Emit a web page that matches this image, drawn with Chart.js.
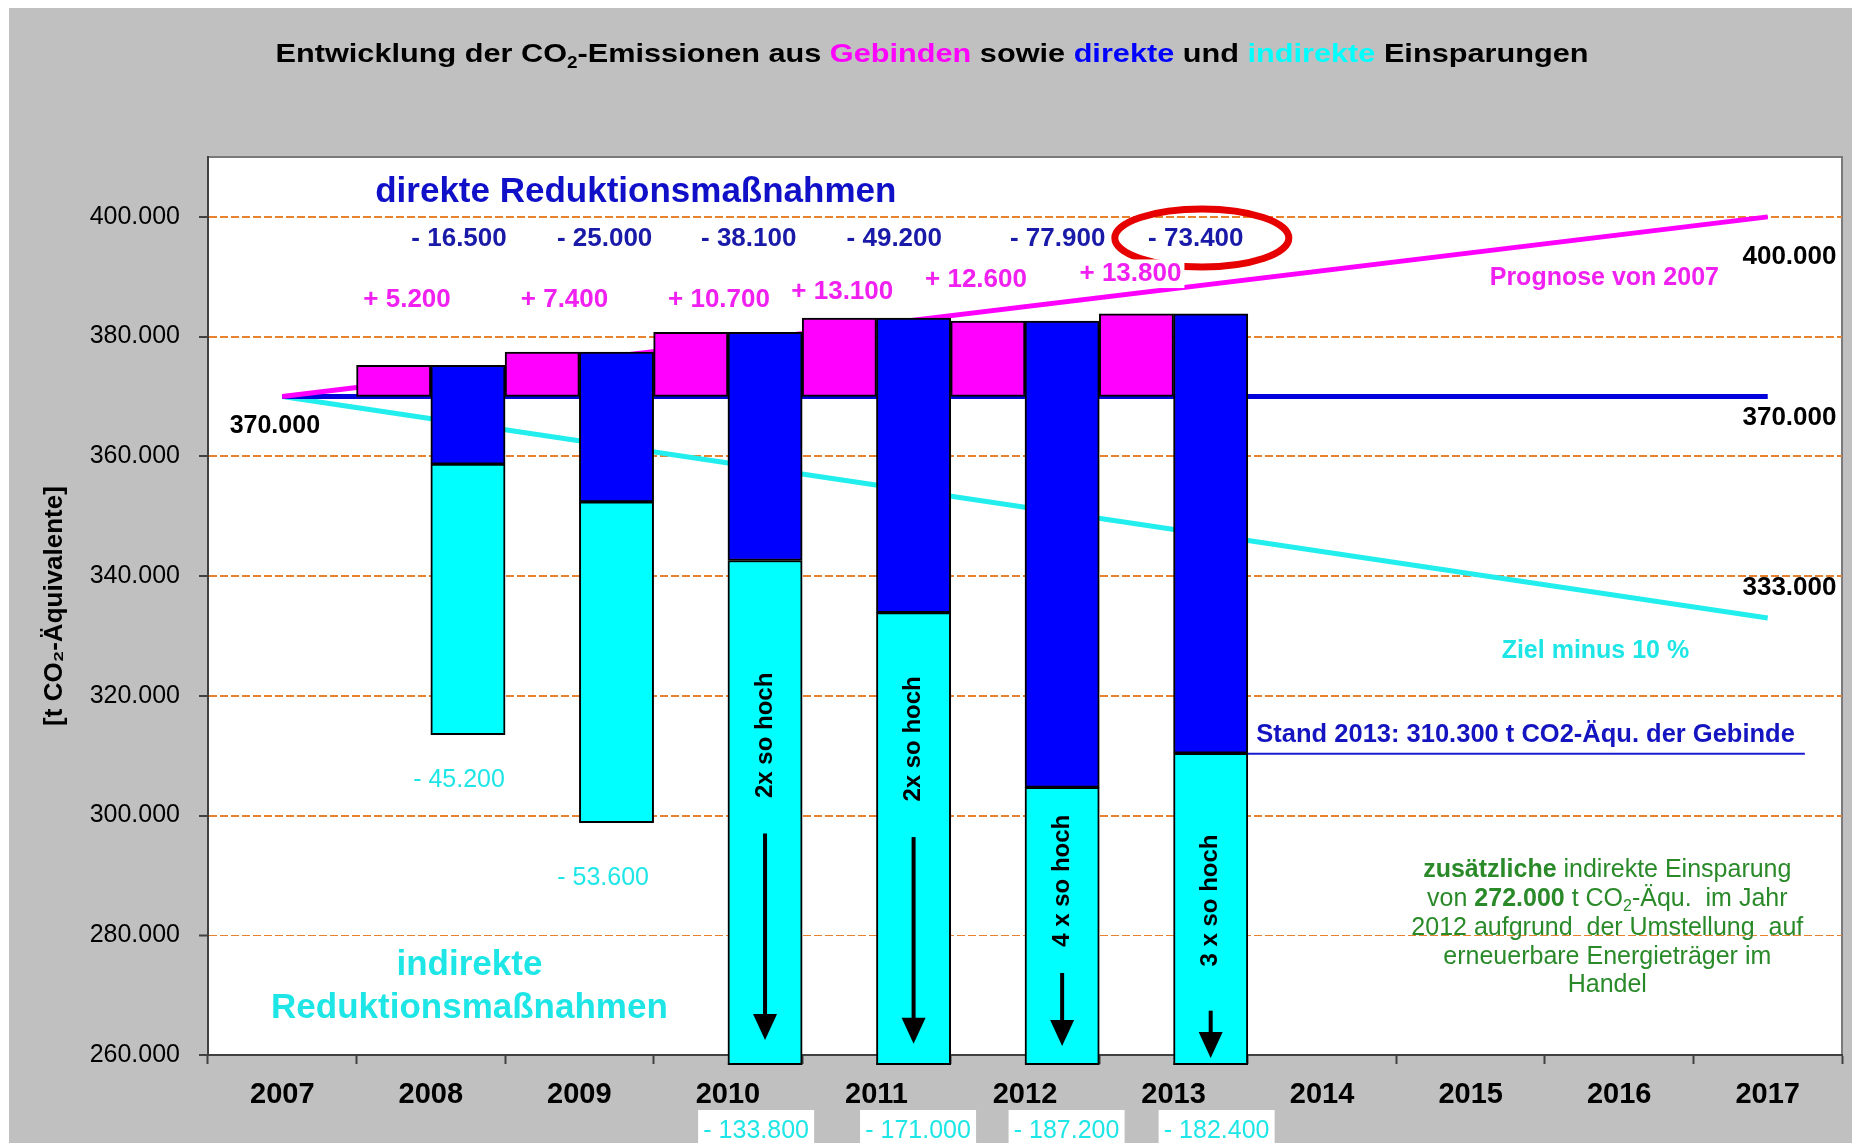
<!DOCTYPE html>
<html lang="de">
<head>
<meta charset="utf-8">
<title>Entwicklung der CO2-Emissionen aus Gebinden</title>
<script src="https://cdn.jsdelivr.net/npm/chart.js@4.4.1/dist/chart.umd.min.js"></script>
<style>
  html, body { margin: 0; padding: 0; background: #fff; }
  canvas { display: block; }
</style>
</head>
<body>
<canvas id="co2Chart" width="1852" height="1143"></canvas>
<script>
// --- data (t CO2-Äquivalente) ---
const years = ['2007', '2008', '2009', '2010', '2011', '2012', '2013', '2014', '2015', '2016', '2017']
const base2007 = 370000
const packagingIncrease = [null, 5200, 7400, 10700, 13100, 12600, 13800, null, null, null, null]
const directSavings = [null, 16500, 25000, 38100, 49200, 77900, 73400, null, null, null, null]
const indirectSavings = [null, 45200, 53600, 133800, 171000, 187200, 182400, null, null, null, null]
const forecastLine = [370000, null, null, null, null, null, null, null, null, null, 400000]
const baseLine = [370000, null, null, null, null, null, null, null, null, null, 370000]
const targetLine = [370000, null, null, null, null, null, null, null, null, null, 333000]
const status2013 = 310300
const extraIndirect2012 = 272000
const yTickValues = [260000, 280000, 300000, 320000, 340000, 360000, 380000, 400000]
const yMin = 260000
const yMax = 410000

// floating bars built from the arrays above
const packagingTop = packagingIncrease.map(v => v === null ? null : base2007 + v)
const packagingBars = packagingTop.map(t => t === null ? null : [base2007, t])
const directBars = packagingTop.map((t, i) => t === null ? null : [t - directSavings[i], t])
const indirectBars = packagingTop.map((t, i) => t === null ? null : [t - directSavings[i] - indirectSavings[i], t - directSavings[i]])

const FONT = "'Liberation Sans', Arial, Helvetica, sans-serif"
const MAGENTA = '#ff00ff'
const BLUE = '#0000ff'
const CYAN = '#00ffff'
const fmt = v => v.toLocaleString('de-DE')

// annotation layout: x in category index units, y in axis units
const notes = {
  directHeading: { i: 2.38, v: 404150 },
  directLabelX: [null, 1.19, 2.17, 3.14, 4.12, 5.22, 6.15],
  directLabelY: 396300,
  packagingLabelX: [null, 0.84, 1.90, 2.94, 3.77, 4.67, 5.71],
  packagingLabelY: [null, 386200, 386200, 386200, 387500, 389500, 390500],
  indirectLabelX: [null, 1.19, 2.16, 3.19, 4.28, 5.28, 6.29],
  indirectLabelY: [null, 305900, 289500],
  indirectHeading: { i: 1.26, v: [274900, 267800] },
  times: [
    null, null, null,
    { text: '2x so hoch', v: 313400, arrow: [297000, 262500] },
    { text: '2x so hoch', v: 312800, arrow: [296400, 261900] },
    { text: '4 x so hoch', v: 289100, arrow: [273700, 261500] },
    { text: '3 x so hoch', v: 285800, arrow: [267400, 259500] }
  ],
  endLabelX: 9.83,
  endLabelY: [393300, 366400, 338100],
  startLabel: { i: -0.05, v: 365000 },
  forecastText: { i: 8.9, v: 389700 },
  targetText: { i: 8.84, v: 327500 },
  statusText: { i: 8.37, v: 313500 },
  statusLineEnd: 10.25,
  extraText: { i: 8.92, v: 291200, step: 28.8 }
}

function label (ctx, str, x, y, size, color, opts = {}) {
  ctx.save()
  ctx.font = `${opts.bold ? 'bold ' : ''}${size}px ${FONT}`
  ctx.textAlign = opts.align || 'center'
  ctx.textBaseline = 'middle'
  if (opts.bg) {
    const w = ctx.measureText(str).width
    const left = ctx.textAlign === 'center' ? x - w / 2 : x
    ctx.fillStyle = opts.bg
    ctx.fillRect(left - 3, y - size * 0.55, w + 6, size * 1.1)
  }
  ctx.fillStyle = color
  ctx.fillText(str, x, y)
  ctx.restore()
}

// one centred line made of differently styled pieces (colour, bold, subscript)
function richLine (ctx, parts, cx, cy, size, stretch = 1) {
  const fontOf = p => `${p.bold ? 'bold ' : ''}${p.sub ? Math.round(size * 0.62) : size}px ${FONT}`
  let total = 0
  parts.forEach(p => { ctx.font = fontOf(p); total += ctx.measureText(p.t).width })
  let x = -total / 2
  const baseline = cy + size * 0.36
  ctx.save()
  ctx.translate(cx, 0)
  ctx.scale(stretch, 1)
  ctx.textAlign = 'left'
  ctx.textBaseline = 'alphabetic'
  parts.forEach(p => {
    ctx.font = fontOf(p)
    ctx.fillStyle = p.color
    ctx.fillText(p.t, x, baseline + (p.sub ? size * 0.2 : 0))
    x += ctx.measureText(p.t).width
  })
  ctx.restore()
}

const backdrop = {
  id: 'backdrop',
  beforeDraw (chart) {
    const { ctx, chartArea: a, width, height } = chart
    ctx.save()
    ctx.fillStyle = '#ffffff'
    ctx.fillRect(0, 0, width, height)
    ctx.fillStyle = '#c0c0c0'
    ctx.fillRect(9, 8, width - 9, height - 8)
    ctx.fillStyle = '#ffffff'
    ctx.fillRect(a.left, a.top, a.right - a.left, a.bottom - a.top)
    ctx.strokeStyle = '#7a7a7a'
    ctx.lineWidth = 2
    ctx.beginPath()
    ctx.moveTo(a.left, a.top)
    ctx.lineTo(a.right, a.top)
    ctx.lineTo(a.right, a.bottom)
    ctx.stroke()
    ctx.restore()
  }
}

const annotations = {
  id: 'annotations',
  afterDraw (chart) {
    const { ctx, chartArea: a, scales: { x, y } } = chart
    const px = i => x.getPixelForValue(i)
    const py = v => y.getPixelForValue(v)
    const directMeta = chart.getDatasetMeta(1)
    const indirectMeta = chart.getDatasetMeta(2)

    // title
    richLine(ctx, [
      { t: 'Entwicklung der CO', color: '#000', bold: true },
      { t: '2', color: '#000', bold: true, sub: true },
      { t: '-Emissionen aus ', color: '#000', bold: true },
      { t: 'Gebinden', color: MAGENTA, bold: true },
      { t: ' sowie ', color: '#000', bold: true },
      { t: 'direkte', color: BLUE, bold: true },
      { t: ' und ', color: '#000', bold: true },
      { t: 'indirekte', color: CYAN, bold: true },
      { t: ' Einsparungen', color: '#000', bold: true }
    ], chart.width / 2 + 6, 53, 26, 1.18)

    label(ctx, 'direkte Reduktionsmaßnahmen', px(notes.directHeading.i), py(notes.directHeading.v), 35, '#1010c8', { bold: true })

    years.forEach((yr, i) => {
      if (directSavings[i] !== null) {
        const lx = px(notes.directLabelX[i])
        const ly = py(notes.directLabelY)
        label(ctx, '- ' + fmt(directSavings[i]), lx, ly, 26, '#1a1aa8', { bold: true })
        if (i === 6) {
          // red ellipse around the latest direct saving
          ctx.save()
          ctx.strokeStyle = '#e60000'
          ctx.lineWidth = 7
          ctx.beginPath()
          ctx.ellipse(lx + 6, ly - 1, 87, 29, 0, 0, Math.PI * 2)
          ctx.stroke()
          ctx.restore()
        }
      }
      if (packagingIncrease[i] !== null) {
        label(ctx, '+ ' + fmt(packagingIncrease[i]), px(notes.packagingLabelX[i]), py(notes.packagingLabelY[i]), 26, '#f020f0', { bold: true, bg: '#fff' })
      }
      if (indirectBars[i] !== null) {
        const bar = indirectMeta.data[i]
        if (indirectBars[i][0] < yMin) {
          // bar runs off the axis: draw its cut edge and put the value below the axis
          ctx.save()
          ctx.fillStyle = '#000'
          ctx.fillRect(bar.x - bar.width / 2, a.bottom + 8, bar.width, 2)
          ctx.restore()
          const bx = px(notes.indirectLabelX[i])
          ctx.save()
          ctx.fillStyle = '#fff'
          ctx.fillRect(bx - 58, a.bottom + 55, 116, 40)
          ctx.restore()
          label(ctx, '- ' + fmt(indirectSavings[i]), bx, a.bottom + 76, 25, '#1ee6e6')
        } else {
          label(ctx, '- ' + fmt(indirectSavings[i]), px(notes.indirectLabelX[i]), py(notes.indirectLabelY[i]), 25, '#1ee6e6')
        }
      }
      const t = notes.times[i]
      if (t) {
        const bx = indirectMeta.data[i].x
        ctx.save()
        ctx.translate(bx, py(t.v))
        ctx.rotate(-Math.PI / 2)
        ctx.font = `bold 24px ${FONT}`
        ctx.fillStyle = '#000'
        ctx.textAlign = 'center'
        ctx.textBaseline = 'middle'
        ctx.fillText(t.text, 0, 0)
        ctx.restore()
        // arrow pointing down
        const top = py(t.arrow[0])
        const tip = py(t.arrow[1])
        ctx.save()
        ctx.fillStyle = '#000'
        ctx.fillRect(bx - 2, top, 4, tip - top - 24)
        ctx.beginPath()
        ctx.moveTo(bx - 12, tip - 26)
        ctx.lineTo(bx + 12, tip - 26)
        ctx.lineTo(bx, tip)
        ctx.closePath()
        ctx.fill()
        ctx.restore()
      }
    })

    label(ctx, 'indirekte', px(notes.indirectHeading.i), py(notes.indirectHeading.v[0]), 35, '#1ee6e6', { bold: true })
    label(ctx, 'Reduktionsmaßnahmen', px(notes.indirectHeading.i), py(notes.indirectHeading.v[1]), 35, '#1ee6e6', { bold: true })

    label(ctx, fmt(base2007), px(notes.startLabel.i), py(notes.startLabel.v), 25, '#000', { bold: true })
    const endValues = [forecastLine[10], baseLine[10], targetLine[10]]
    endValues.forEach((v, k) => {
      label(ctx, fmt(v), px(notes.endLabelX), py(notes.endLabelY[k]), 26, '#000', { bold: true, align: 'left' })
    })
    label(ctx, 'Prognose von 2007', px(notes.forecastText.i), py(notes.forecastText.v), 25, '#f020f0', { bold: true })
    label(ctx, 'Ziel minus 10 %', px(notes.targetText.i), py(notes.targetText.v), 25, '#1ee6e6', { bold: true })

    // status 2013 line and caption
    const lastBar = directMeta.data[6]
    ctx.save()
    ctx.strokeStyle = '#1a1ad0'
    ctx.lineWidth = 2
    ctx.beginPath()
    ctx.moveTo(lastBar.x + lastBar.width / 2, py(status2013))
    ctx.lineTo(px(notes.statusLineEnd), py(status2013))
    ctx.stroke()
    ctx.restore()
    label(ctx, 'Stand 2013: ' + fmt(status2013) + ' t CO2-Äqu. der Gebinde', px(notes.statusText.i), py(notes.statusText.v), 25.5, '#1414c0', { bold: true })

    // green note about the additional indirect saving
    const green = '#2a8a2a'
    const gx = px(notes.extraText.i)
    const gy = py(notes.extraText.v)
    const st = notes.extraText.step
    richLine(ctx, [{ t: 'zusätzliche', color: green, bold: true }, { t: ' indirekte Einsparung', color: green }], gx, gy, 25)
    richLine(ctx, [
      { t: 'von ', color: green }, { t: fmt(extraIndirect2012), color: green, bold: true },
      { t: ' t CO', color: green }, { t: '2', color: green, sub: true }, { t: '-Äqu.  im Jahr', color: green }
    ], gx, gy + st, 25)
    richLine(ctx, [{ t: '2012 aufgrund  der Umstellung  auf', color: green }], gx, gy + st * 2, 25)
    richLine(ctx, [{ t: 'erneuerbare Energieträger im', color: green }], gx, gy + st * 3, 25)
    richLine(ctx, [{ t: 'Handel', color: green }], gx, gy + st * 4, 25)
  }
}

Chart.defaults.font.family = FONT

const ctx = document.getElementById('co2Chart').getContext('2d')
const chart = new Chart(ctx, {
  data: {
    labels: years,
    datasets: [
      {
        type: 'bar',
        label: 'Gebinde',
        data: packagingBars,
        stack: 'gebinde',
        backgroundColor: MAGENTA,
        borderColor: '#000',
        borderWidth: 2,
        borderSkipped: false,
        categoryPercentage: 1,
        barPercentage: 1,
        order: 1
      },
      {
        type: 'bar',
        label: 'direkte Einsparung',
        data: directBars,
        stack: 'einsparung',
        backgroundColor: BLUE,
        borderColor: '#000',
        borderWidth: 2,
        borderSkipped: false,
        categoryPercentage: 1,
        barPercentage: 1,
        order: 1
      },
      {
        type: 'bar',
        label: 'indirekte Einsparung',
        data: indirectBars,
        stack: 'einsparung',
        backgroundColor: CYAN,
        borderColor: '#000',
        borderWidth: 2,
        borderSkipped: false,
        categoryPercentage: 1,
        barPercentage: 1,
        clip: { left: 0, top: 0, right: 0, bottom: 10 },
        order: 1
      },
      {
        type: 'line',
        label: 'Prognose von 2007',
        data: forecastLine,
        borderColor: MAGENTA,
        borderWidth: 5,
        pointRadius: 0,
        spanGaps: true,
        order: 2
      },
      {
        type: 'line',
        label: 'Basis 2007',
        data: baseLine,
        borderColor: '#0000dd',
        borderWidth: 5,
        pointRadius: 0,
        spanGaps: true,
        order: 2
      },
      {
        type: 'line',
        label: 'Ziel minus 10 %',
        data: targetLine,
        borderColor: '#22eeee',
        borderWidth: 5,
        pointRadius: 0,
        spanGaps: true,
        order: 2
      }
    ]
  },
  options: {
    responsive: false,
    devicePixelRatio: 1,
    animation: false,
    layout: { padding: { top: 157, right: 10, bottom: 0, left: 0 } },
    plugins: {
      legend: { display: false },
      tooltip: { enabled: false },
      title: { display: false }
    },
    scales: {
      x: {
        type: 'category',
        offset: true,
        grid: {
          offset: true,
          drawOnChartArea: false,
          tickLength: 9,
          tickWidth: 2,
          tickColor: '#404040'
        },
        border: { color: '#404040', width: 2 },
        ticks: {
          color: '#000',
          font: { size: 29, weight: 'bold' },
          padding: 14,
          maxRotation: 0,
          autoSkip: false
        },
        afterFit: scale => { scale.height = 88 }
      },
      y: {
        type: 'linear',
        stacked: false,
        bounds: 'data',
        min: yMin,
        max: yMax,
        afterBuildTicks: scale => { scale.ticks = yTickValues.map(value => ({ value })) },
        afterFit: scale => { scale.width = 208 },
        grid: {
          color: c => c.tick && c.tick.value === yMin ? 'rgba(0,0,0,0)' : '#e8822e',
          lineWidth: c => c.tick && c.tick.value === 280000 ? 1 : 2,
          tickLength: 9,
          tickWidth: 2,
          tickColor: '#404040',
          tickBorderDash: []
        },
        border: { color: '#404040', width: 2, dash: [8, 3] },
        ticks: {
          color: '#000',
          font: { size: 25 },
          padding: 19,
          callback: value => fmt(value)
        },
        title: {
          display: true,
          text: '[t CO₂-Äquivalente]',
          color: '#000',
          font: { size: 26, weight: 'bold' },
          padding: { top: 39, bottom: 0 }
        }
      }
    }
  },
  plugins: [backdrop, annotations]
})
</script>
</body>
</html>
